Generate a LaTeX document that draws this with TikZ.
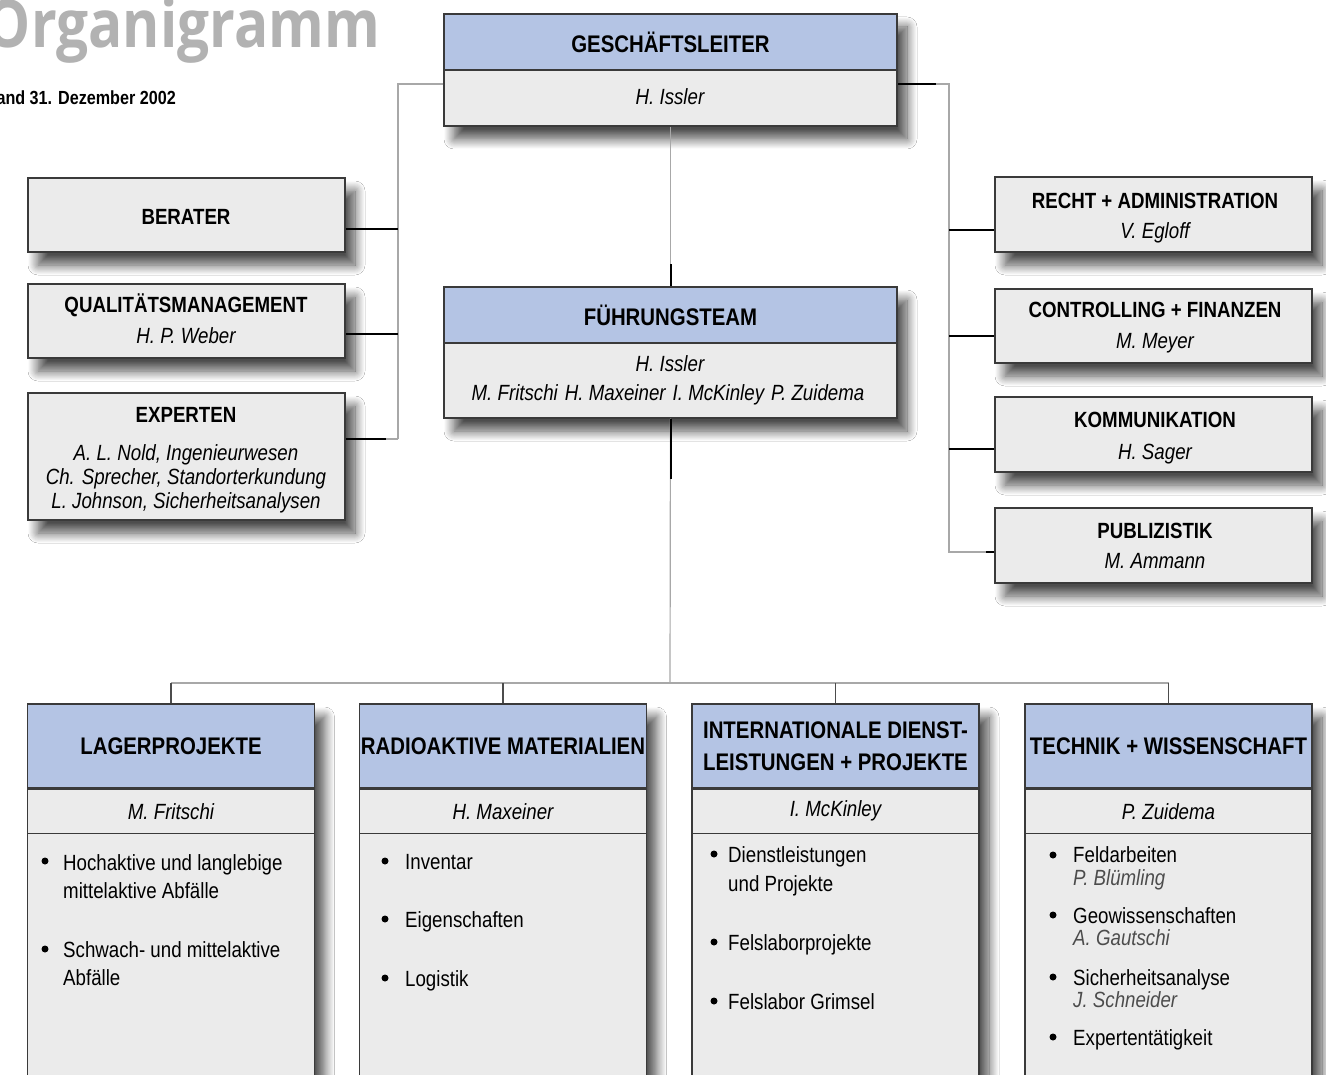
\documentclass[tikz,border=0pt]{standalone}
\usepackage{fontspec}
\setmainfont{Liberation Sans}[FakeStretch=0.85]
\newfontfamily\titlefont{Open Sans}[FakeStretch=0.86]
\usetikzlibrary{shadows.blur,calc}
\definecolor{hblue}{HTML}{B4C4E4}
\definecolor{pgray}{HTML}{EBEBEB}
\definecolor{bord}{HTML}{3A3A3A}
\definecolor{busgray}{HTML}{A8A8A8}
\definecolor{titlegray}{HTML}{B2B2B2}
\tikzset{
  panel/.style={draw=bord, line width=1.2pt, fill=pgray, inner sep=0pt,
    blur shadow={shadow xshift=10pt, shadow yshift=-13pt, shadow blur radius=10pt,
      shadow blur steps=12, shadow opacity=70}},
  headbox/.style={draw=bord, line width=1.2pt, fill=hblue, inner sep=0pt, align=center,
    font=\fontsize{24}{32}\selectfont\bfseries},
  rowbox/.style={draw=bord, line width=1.2pt, fill=pgray, inner sep=0pt,
    font=\fontsize{22}{26}\selectfont\itshape},
  hd/.style={anchor=base, inner sep=0pt, font=\fontsize{22}{26}\selectfont\bfseries},
  nm/.style={anchor=base, inner sep=0pt, font=\fontsize{22}{24}\selectfont\itshape},
  bd/.style={anchor=base west, inner sep=0pt, font=\fontsize{22}{26}\selectfont},
  sub/.style={anchor=base west, inner sep=0pt, text=black!70, font=\fontsize{22}{26}\selectfont\itshape},
  bus/.style={draw=busgray, line width=1.2pt},
  branch/.style={draw=black, line width=1.1pt},
  thickseg/.style={draw=black, line width=2pt},
  drop/.style={draw=black!70, line width=1.1pt},
}
\begin{document}
\begin{tikzpicture}[x=1pt,y=-1pt]
\useasboundingbox[fill=white] (0,0) rectangle (1326,1075);

% title
\node[anchor=base east, inner sep=0pt, text=titlegray,
  font=\titlefont\bfseries\fontsize{66}{70}\selectfont] (title) at (380,48) {Organigramm};
\node[anchor=base east, inner sep=0pt, font=\bfseries\fontsize{19}{22}\selectfont] (date) at (176,105) {Stand 31. Dezember 2002};

% Geschaeftsleiter
\node[panel, minimum width=453pt, minimum height=112pt] (gl) at (670.5,70) {};
\node[headbox, minimum width=453pt, minimum height=56pt, anchor=north] (glh) at (gl.north) {GESCHÄFTSLEITER};
\node[nm] (gln) at (670,105) {H. Issler};

% Fuehrungsteam
\node[panel, minimum width=453pt, minimum height=131pt] (ft) at (670.5,352.5) {};
\node[headbox, minimum width=453pt, minimum height=56pt, anchor=north] (fth) at (ft.north) {FÜHRUNGSTEAM};
\node[nm] (ftn1) at (670,372) {H. Issler};
\node[nm] (ftn2) at (668,401) {M. Fritschi\hspace{7pt}H. Maxeiner\hspace{7pt}I. McKinley\hspace{7pt}P. Zuidema};

% left boxes
\node[panel, minimum width=317pt, minimum height=74pt] (ber) at (186.5,215) {};
\node[hd] (bert) at (186,225) {BERATER};
\node[panel, minimum width=317pt, minimum height=74pt] (qm) at (186.5,321) {};
\node[hd] (qmt) at (186,313) {QUALITÄTSMANAGEMENT};
\node[nm] (qmn) at (186,344) {H. P. Weber};
\node[panel, minimum width=317pt, minimum height=127pt] (exp) at (186.5,456.5) {};
\node[hd] (expt) at (186,422) {EXPERTEN};
\node[nm] (expn1) at (186,460) {A. L. Nold, Ingenieurwesen};
\node[nm] (expn2) at (186,484) {Ch. Sprecher, Standorterkundung};
\node[nm] (expn3) at (186,508) {L. Johnson, Sicherheitsanalysen};

% right boxes
\node[panel, minimum width=317pt, minimum height=75pt] (rec) at (1153.5,214.5) {};
\node[hd] (rect) at (1155,209) {RECHT + ADMINISTRATION};
\node[nm] (recn) at (1155,239) {V. Egloff};
\node[panel, minimum width=317pt, minimum height=74pt] (con) at (1153.5,326) {};
\node[hd] (cont) at (1155,318) {CONTROLLING + FINANZEN};
\node[nm] (conn) at (1155,349) {M. Meyer};
\node[panel, minimum width=317pt, minimum height=75pt] (kom) at (1153.5,434.5) {};
\node[hd] (komt) at (1155,428) {KOMMUNIKATION};
\node[nm] (komn) at (1155,459) {H. Sager};
\node[panel, minimum width=317pt, minimum height=75pt] (pub) at (1153.5,545.5) {};
\node[hd] (pubt) at (1155,538) {PUBLIZISTIK};
\node[nm] (pubn) at (1155,568) {M. Ammann};

% bottom boxes
\node[panel, minimum width=287pt, minimum height=396pt] (lp) at (171,902) {};
\node[headbox, minimum width=287pt, minimum height=84pt, anchor=north] (lph) at (lp.north) {LAGERPROJEKTE};
\node[rowbox, minimum width=287pt, minimum height=44pt, anchor=north] (lpn) at (lph.south) {M. Fritschi};

\node[panel, minimum width=287pt, minimum height=396pt] (rm) at (503,902) {};
\node[headbox, minimum width=287pt, minimum height=84pt, anchor=north] (rmh) at (rm.north) {RADIOAKTIVE MATERIALIEN};
\node[rowbox, minimum width=287pt, minimum height=44pt, anchor=north] (rmn) at (rmh.south) {H. Maxeiner};

\node[panel, minimum width=287pt, minimum height=396pt] (idl) at (835.5,902) {};
\node[headbox, minimum width=287pt, minimum height=84pt, anchor=north] (idlh) at (idl.north) {INTERNATIONALE DIENST-\\LEISTUNGEN + PROJEKTE};
\node[rowbox, minimum width=287pt, minimum height=44pt, anchor=north] (idln) at (idlh.south) {I. McKinley};

\node[panel, minimum width=287pt, minimum height=396pt] (tw) at (1168.5,902) {};
\node[headbox, minimum width=287pt, minimum height=84pt, anchor=north] (twh) at (tw.north) {TECHNIK + WISSENSCHAFT};
\node[rowbox, minimum width=287pt, minimum height=44pt, anchor=north] (twn) at (twh.south) {P. Zuidema};

% bullets and body text
\fill (45,861) circle (3.5pt);
\node[bd] (lp1) at (63,870) {Hochaktive und langlebige};
\node[bd] (lp2) at (63,898) {mittelaktive Abfälle};
\fill (45,949) circle (3.5pt);
\node[bd] (lp3) at (63,957) {Schwach- und mittelaktive};
\node[bd] (lp4) at (63,985) {Abfälle};

\fill (385,861) circle (3.5pt);
\node[bd] (rm1) at (405,869) {Inventar};
\fill (385,919) circle (3.5pt);
\node[bd] (rm2) at (405,927) {Eigenschaften};
\fill (385,978) circle (3.5pt);
\node[bd] (rm3) at (405,986) {Logistik};

\fill (714,854) circle (3.5pt);
\node[bd] (id1) at (728,862) {Dienstleistungen};
\node[bd] (id2) at (728,891) {und Projekte};
\fill (714,942) circle (3.5pt);
\node[bd] (id3) at (728,950) {Felslaborprojekte};
\fill (714,1001) circle (3.5pt);
\node[bd] (id4) at (728,1009) {Felslabor Grimsel};

\fill (1053,855) circle (3.5pt);
\node[bd] (tw1) at (1073,862) {Feldarbeiten};
\node[sub] (tw1n) at (1073,885) {P. Blümling};
\fill (1053,915) circle (3.5pt);
\node[bd] (tw2) at (1073,923) {Geowissenschaften};
\node[sub] (tw2n) at (1073,945) {A. Gautschi};
\fill (1053,977) circle (3.5pt);
\node[bd] (tw3) at (1073,985) {Sicherheitsanalyse};
\node[sub] (tw3n) at (1073,1007) {J. Schneider};
\fill (1053,1037) circle (3.5pt);
\node[bd] (tw4) at (1073,1045) {Expertentätigkeit};

% connectors
\coordinate (lbt) at (398,84);
\coordinate (lbb) at (398,439);
\draw[bus] (lbt -| gl.west) -- (lbt) -- (lbb);
\draw[branch] (ber.east |- 0,229) -- (lbt |- 0,229);
\draw[branch] (qm.east |- 0,334) -- (lbt |- 0,334);
\draw[bus] (lbb) -- (lbb -| exp.east);
\draw[thickseg] (lbb -| exp.east) -- ++(40,0);

\coordinate (rbt) at (949,84);
\coordinate (rbb) at (949,552);
\draw[bus] (rbt -| gl.east) -- (rbt) -- (rbb) -- (rbb -| pub.west);
\draw[thickseg] (rbt -| gl.east) -- ++(38,0);
\draw[branch] (rbt |- 0,230) -- (rec.west |- 0,230);
\draw[branch] (rbt |- 0,336) -- (con.west |- 0,336);
\draw[branch] (rbt |- 0,449) -- (kom.west |- 0,449);
\draw[thickseg] (rbt |- 0,449) -- ++(10,0);
\draw[thickseg] (kom.west |- 0,449) -- ++(-10,0);
\draw[thickseg] (pub.west |- 0,552) -- ++(-8,0);

\draw[bus] (gl.south) -- (ft.north);
\draw[thickseg] (ft.north) -- ++(0,-22);

\coordinate (hb) at (670,683);
\draw[bus] (ft.south) -- (hb);
\draw[thickseg] (ft.south) -- ++(0,60);
\draw[bus] (lp.north |- hb) -- (tw.north |- hb);
\draw[drop] (lp.north |- hb) -- (lp.north);
\draw[drop] (rm.north |- hb) -- (rm.north);
\draw[drop] (idl.north |- hb) -- (idl.north);
\draw[drop] (tw.north |- hb) -- (tw.north);
\end{tikzpicture}
\end{document}
